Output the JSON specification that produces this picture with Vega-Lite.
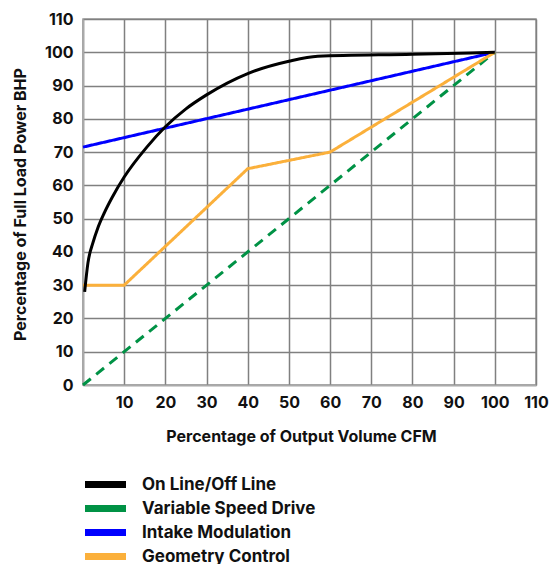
{
  "$schema": "https://vega.github.io/schema/vega-lite/v6.json",
  "width": 453,
  "height": 366,
  "autosize": "none",
  "padding": {"left": 83, "top": 19, "right": 13, "bottom": 179},
  "background": "white",
  "config": {
    "font": "Inter",
    "view": {"stroke": "#9a9a9a", "strokeWidth": 1.5},
    "axis": {
      "labelFont": "Inter",
      "labelFontWeight": "bold",
      "labelFontSize": 16,
      "labelColor": "#111111",
      "titleFont": "Inter",
      "titleFontWeight": "bold",
      "titleFontSize": 16,
      "titleColor": "#111111",
      "gridColor": "#808080",
      "gridWidth": 1.5,
      "gridOpacity": 1,
      "domainColor": "#aaaaaa",
      "domainWidth": 1.5,
      "ticks": false,
      "labelFlush": false,
      "labelOverlap": false
    },
    "legend": {
      "labelFont": "Inter",
      "labelFontWeight": "bold",
      "labelFontSize": 17,
      "labelColor": "#111111",
      "labelLimit": 400
    }
  },
  "data": {
    "values": [
      {"series": "On Line/Off Line", "x": 0.4, "y": 28},
      {"series": "On Line/Off Line", "x": 1.2, "y": 36.7},
      {"series": "On Line/Off Line", "x": 2.4, "y": 42.7},
      {"series": "On Line/Off Line", "x": 3.6, "y": 47.2},
      {"series": "On Line/Off Line", "x": 5.2, "y": 51.8},
      {"series": "On Line/Off Line", "x": 7, "y": 56.2},
      {"series": "On Line/Off Line", "x": 10, "y": 62.5},
      {"series": "On Line/Off Line", "x": 15.5, "y": 71.5},
      {"series": "On Line/Off Line", "x": 20, "y": 77.6},
      {"series": "On Line/Off Line", "x": 25, "y": 83},
      {"series": "On Line/Off Line", "x": 30, "y": 87.2},
      {"series": "On Line/Off Line", "x": 40, "y": 93.6},
      {"series": "On Line/Off Line", "x": 50, "y": 97.3},
      {"series": "On Line/Off Line", "x": 57, "y": 98.8},
      {"series": "On Line/Off Line", "x": 80, "y": 99.4},
      {"series": "On Line/Off Line", "x": 100, "y": 100},
      {"series": "Variable Speed Drive", "x": 0, "y": 0},
      {"series": "Variable Speed Drive", "x": 100, "y": 100},
      {"series": "Intake Modulation", "x": 0, "y": 71.5},
      {"series": "Intake Modulation", "x": 100, "y": 100},
      {"series": "Geometry Control", "x": 0, "y": 30},
      {"series": "Geometry Control", "x": 10, "y": 30},
      {"series": "Geometry Control", "x": 40, "y": 65},
      {"series": "Geometry Control", "x": 60, "y": 70},
      {"series": "Geometry Control", "x": 100, "y": 100}
    ]
  },
  "encoding": {
    "x": {
      "field": "x",
      "type": "quantitative",
      "scale": {"domain": [0, 110], "nice": false},
      "axis": {
        "values": [0, 10, 20, 30, 40, 50, 60, 70, 80, 90, 100, 110],
        "labelExpr": "datum.value == 0 ? '' : datum.label",
        "labelPadding": 9,
        "title": "Percentage of Output Volume CFM",
        "titleX": 218,
        "titleY": 43,
        "titleBaseline": "top"
      }
    },
    "y": {
      "field": "y",
      "type": "quantitative",
      "scale": {"domain": [0, 110], "nice": false},
      "axis": {
        "values": [0, 10, 20, 30, 40, 50, 60, 70, 80, 90, 100, 110],
        "labelPadding": 10,
        "title": "Percentage of Full Load Power BHP",
        "titleX": -63,
        "titleY": 185,
        "titleBaseline": "middle",
        "titleAlign": "center"
      }
    },
    "color": {
      "field": "series",
      "type": "nominal",
      "scale": {
        "domain": ["On Line/Off Line", "Variable Speed Drive", "Intake Modulation", "Geometry Control"],
        "range": ["#000000", "#009245", "#0000ff", "#fbb03b"]
      },
      "legend": {
        "title": null,
        "orient": "none",
        "legendX": 14,
        "legendY": 457,
        "symbolType": "M-4.1,0H4.1",
        "symbolSize": 100,
        "symbolStrokeWidth": 7,
        "labelOffset": 28,
        "rowPadding": -5
      }
    }
  },
  "layer": [
    {
      "transform": [{"filter": "datum.series != 'On Line/Off Line'"}],
      "mark": {"type": "line", "strokeWidth": 3},
      "encoding": {
        "strokeDash": {
          "condition": {"test": "datum.series == 'Variable Speed Drive'", "value": [10, 7]},
          "value": [1, 0]
        }
      }
    },
    {
      "transform": [{"filter": "datum.series == 'On Line/Off Line'"}],
      "mark": {"type": "line", "strokeWidth": 3, "interpolate": "monotone"}
    }
  ]
}
